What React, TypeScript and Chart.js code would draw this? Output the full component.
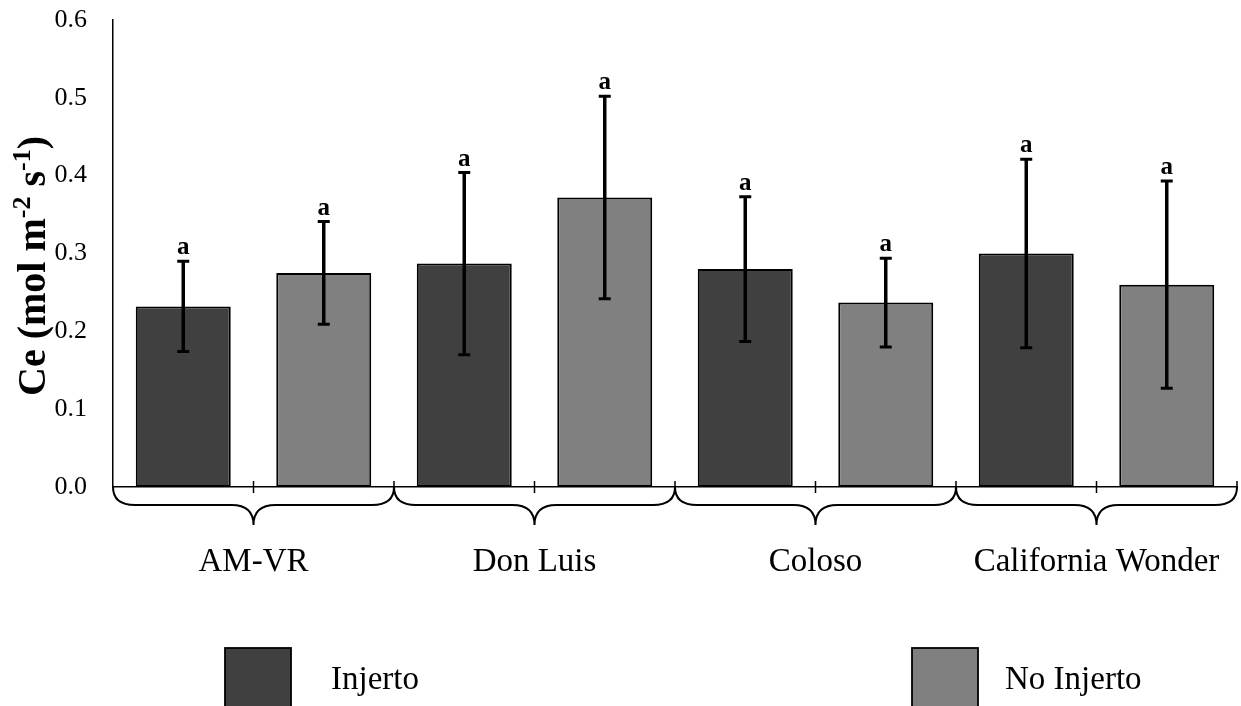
import React, { useEffect, useRef } from "react";
import { Chart, registerables } from "chart.js";

Chart.register(...registerables);

// ---- data ----
const groups = ["AM-VR", "Don Luis", "Coloso", "California Wonder"];
const seriesNames = ["Injerto", "No Injerto"];
const injerto = [0.232, 0.287, 0.28, 0.3];
const noInjerto = [0.275, 0.372, 0.237, 0.26];
const injertoErr = [0.058, 0.117, 0.093, 0.121];
const noInjertoErr = [0.066, 0.13, 0.057, 0.133];
const injertoLetters = ["a", "a", "a", "a"];
const noInjertoLetters = ["a", "a", "a", "a"];
const yTickValues = [0, 0.1, 0.2, 0.3, 0.4, 0.5, 0.6];
const yTitleParts = [
  { t: "Ce (mol m", sup: false },
  { t: "-2", sup: true },
  { t: " s", sup: false },
  { t: "-1", sup: true },
  { t: ")", sup: false },
];

const SERIF = '"Liberation Serif", "Times New Roman", serif';
const DARK = "#404040";
const LIGHT = "#808080";

export default function App() {
  const ref = useRef<HTMLCanvasElement>(null);

  useEffect(() => {
    document.body.style.margin = "0";
    const canvas = ref.current!;
    const errs = [injertoErr, noInjertoErr];
    const letters = [injertoLetters, noInjertoLetters];

    const overlay = {
      id: "overlay",
      afterDatasetsDraw(chart: any) {
        const ctx = chart.ctx;
        const ys = chart.scales.y;
        ctx.save();
        chart.data.datasets.forEach((ds: any, di: number) => {
          const meta = chart.getDatasetMeta(di);
          meta.data.forEach((bar: any, i: number) => {
            const v = ds.data[i];
            const e = errs[di][i];
            const x = bar.x;
            const yt = ys.getPixelForValue(v + e);
            const yb = ys.getPixelForValue(v - e);
            ctx.strokeStyle = "#000";
            ctx.lineWidth = 3.5;
            ctx.beginPath();
            ctx.moveTo(x, yt);
            ctx.lineTo(x, yb);
            ctx.stroke();
            ctx.lineWidth = 3;
            ctx.beginPath();
            ctx.moveTo(x - 6, yt);
            ctx.lineTo(x + 6, yt);
            ctx.moveTo(x - 6, yb);
            ctx.lineTo(x + 6, yb);
            ctx.stroke();
            ctx.fillStyle = "#000";
            ctx.font = `bold 25px ${SERIF}`;
            ctx.textAlign = "center";
            ctx.textBaseline = "alphabetic";
            ctx.fillText(letters[di][i], x, yt - 7);
          });
        });
        ctx.restore();
      },
      afterDraw(chart: any) {
        const ctx = chart.ctx;
        const xs = chart.scales.x;
        const area = chart.chartArea;
        const n = chart.data.labels.length;
        const half = (area.right - area.left) / n / 2;
        const y0 = area.bottom;
        const yh = y0 + 18;
        const yp = y0 + 38;
        const r = 22;
        ctx.save();
        ctx.strokeStyle = "#000";
        // braces
        ctx.lineWidth = 2;
        for (let i = 0; i < n; i++) {
          const c = xs.getPixelForValue(i);
          const x0 = c - half;
          const x1 = c + half;
          ctx.beginPath();
          ctx.moveTo(x0, y0);
          ctx.quadraticCurveTo(x0, yh, x0 + r, yh);
          ctx.lineTo(c - r, yh);
          ctx.quadraticCurveTo(c, yh, c, yp);
          ctx.quadraticCurveTo(c, yh, c + r, yh);
          ctx.lineTo(x1 - r, yh);
          ctx.quadraticCurveTo(x1, yh, x1, y0);
          ctx.stroke();
          // tick at group middle
          ctx.lineWidth = 1.5;
          ctx.beginPath();
          ctx.moveTo(c, y0 - 6);
          ctx.lineTo(c, y0 + 6);
          ctx.stroke();
          // ticks at boundaries
          ctx.beginPath();
          ctx.moveTo(x1, y0 - 6);
          ctx.lineTo(x1, y0);
          ctx.stroke();
          ctx.lineWidth = 2;
        }
        // y title
        ctx.fillStyle = "#000";
        ctx.textBaseline = "alphabetic";
        ctx.textAlign = "left";
        const mainSize = 40;
        const supSize = 26;
        let total = 0;
        const widths = yTitleParts.map((p) => {
          ctx.font = `bold ${p.sup ? supSize : mainSize}px ${SERIF}`;
          const w = ctx.measureText(p.t).width;
          total += w;
          return w;
        });
        ctx.translate(45, 266);
        ctx.rotate(-Math.PI / 2);
        let px = -total / 2;
        yTitleParts.forEach((p, i) => {
          ctx.font = `bold ${p.sup ? supSize : mainSize}px ${SERIF}`;
          ctx.fillText(p.t, px, p.sup ? -15 : 0);
          px += widths[i];
        });
        ctx.setTransform(1, 0, 0, 1, 0, 0);
        // legend
        const legendBoxes = [225, 912];
        const legendText = [331, 1005];
        chart.data.datasets.forEach((ds: any, di: number) => {
          ctx.fillStyle = ds.backgroundColor;
          ctx.fillRect(legendBoxes[di], 648, 66, 70);
          ctx.strokeStyle = "#000";
          ctx.lineWidth = 1.8;
          ctx.strokeRect(legendBoxes[di], 648, 66, 70);
          ctx.fillStyle = "#000";
          ctx.font = `33px ${SERIF}`;
          ctx.textAlign = "left";
          ctx.textBaseline = "alphabetic";
          ctx.fillText(ds.label, legendText[di], 689);
        });
        ctx.restore();
      },
    };

    const chart = new Chart(canvas, {
      type: "bar",
      data: {
        labels: groups,
        datasets: [
          {
            label: seriesNames[0],
            data: injerto,
            backgroundColor: DARK,
            borderColor: "#000",
            borderWidth: 2,
            borderSkipped: false,
            categoryPercentage: 1,
            barPercentage: 0.676,
          },
          {
            label: seriesNames[1],
            data: noInjerto,
            backgroundColor: LIGHT,
            borderColor: "#000",
            borderWidth: 2,
            borderSkipped: false,
            categoryPercentage: 1,
            barPercentage: 0.676,
          },
        ],
      },
      options: {
        animation: false,
        responsive: false,
        devicePixelRatio: 1,
        layout: { padding: { left: 0, right: 4, top: 20, bottom: 119 } },
        plugins: { legend: { display: false }, tooltip: { enabled: false } },
        scales: {
          x: {
            grid: { display: false, drawTicks: false },
            border: { display: true, color: "#000", width: 1.5 },
            ticks: {
              font: { family: SERIF, size: 33 },
              color: "#000",
              padding: 56,
              maxRotation: 0,
              autoSkip: false,
            },
            afterFit: (s: any) => {
              s.height = 100;
              s.paddingLeft = 0;
              s.paddingRight = 0;
            },
          },
          y: {
            min: 0,
            max: 0.6,
            afterBuildTicks: (s: any) => {
              s.ticks = yTickValues.map((v) => ({ value: v }));
            },
            ticks: {
              callback: (v: any) => Number(v).toFixed(1),
              font: { family: SERIF, size: 26 },
              color: "#000",
              padding: 26,
            },
            grid: { display: false, drawTicks: false },
            border: { display: true, color: "#000", width: 1.5 },
            afterFit: (s: any) => {
              s.width = 113;
              s.paddingTop = 0;
              s.paddingBottom = 0;
            },
          },
        },
      },
      plugins: [overlay],
    } as any);

    return () => chart.destroy();
  }, []);

  return (
    <div style={{ width: 1241, height: 706, background: "#fff" }}>
      <canvas ref={ref} width={1241} height={706} style={{ display: "block" }} />
    </div>
  );
}
